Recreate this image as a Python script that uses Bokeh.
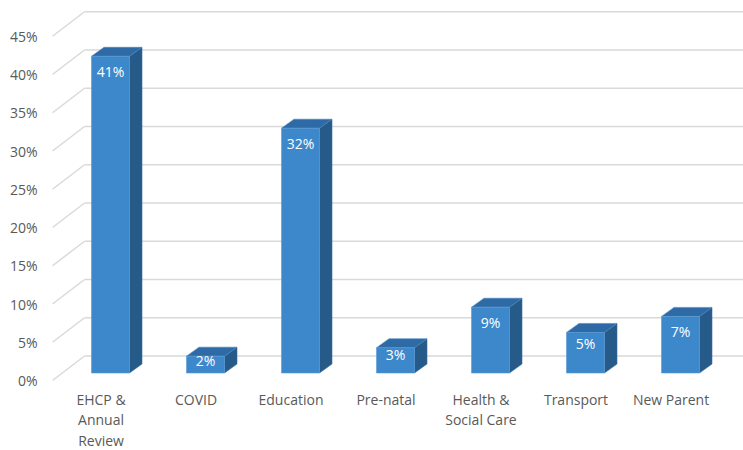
from bokeh.plotting import figure
from bokeh.models import Range1d, FixedTicker, PrintfTickFormatter
from bokeh.core.properties import value
from bokeh.embed import file_html
from bokeh.resources import INLINE

# ---- data ----
categories = ["EHCP &\nAnnual\nReview", "COVID", "Education", "Pre-natal",
              "Health &\nSocial Care", "Transport", "New Parent"]
shares = [41.4, 2.2, 32.0, 3.3, 8.6, 5.3, 7.4]
tick_values = [0, 5, 10, 15, 20, 25, 30, 35, 40, 45]

# ---- geometry (styles) ----
W, H = 743, 450
PX_CAT = 95.0      # px per category
PX_PCT = 7.65      # px per percent
OX, OY = 110.0, 380.0   # pixel of category 0 / 0% (front plane)
FRAME_L = 44

x_lo = (FRAME_L - OX) / PX_CAT
x_hi = (W - OX) / PX_CAT
y_hi = OY / PX_PCT
y_lo = (OY - H) / PX_PCT

FONT = "Open Sans"
TXT = "#595959"
GRID = "#d9d9d9"
FRONT = "#3d87cb"
SIDE = "#265a88"
TOP = "#2e6ba6"

p = figure(width=W, height=H, output_backend="svg", toolbar_location=None,
           x_range=Range1d(x_lo, x_hi), y_range=Range1d(y_lo, y_hi),
           min_border_left=FRAME_L, min_border_right=0, min_border_top=0,
           min_border_bottom=0)
p.outline_line_color = None
p.background_fill_color = "white"
p.border_fill_color = "white"
p.xgrid.visible = False
p.ygrid.visible = False
p.xaxis.visible = False

ya = p.yaxis[0]
ya.ticker = FixedTicker(ticks=tick_values)
ya.formatter = PrintfTickFormatter(format="%d%%")
ya.axis_line_color = None
ya.major_tick_line_color = None
ya.minor_tick_line_color = None
ya.major_tick_in = 0
ya.major_tick_out = 0
ya.major_label_standoff = 7
ya.major_label_text_font = FONT
ya.major_label_text_font_size = "14px"
ya.major_label_text_color = TXT

# ---- floor/wall gridlines ----
diag_x0 = (52 - OX) / PX_CAT
wall_x = (84 - OX) / PX_CAT
wall_end = (760 - OX) / PX_CAT
depth = 24.5 / PX_PCT
p.segment(x0=[diag_x0] * len(tick_values), y0=tick_values,
          x1=[wall_x] * len(tick_values), y1=[t + depth for t in tick_values],
          line_color=GRID, line_width=1.5)
p.segment(x0=[wall_x] * len(tick_values), y0=[t + depth for t in tick_values],
          x1=[wall_end] * len(tick_values), y1=[t + depth for t in tick_values],
          line_color=GRID, line_width=1.5)

# ---- 3D bars ----
bw = 38 / PX_CAT
ddx = 12.5 / PX_CAT
ddy = 9.0 / PX_PCT
floor = (OY - 372.5) / PX_PCT
idx = list(range(len(categories)))
lefts = [i - bw / 2 for i in idx]
rights = [i + bw / 2 for i in idx]
tops = [floor + v for v in shares]

side_xs = [[r, r, r + ddx, r + ddx] for r in rights]
side_ys = [[floor, t, t + ddy, floor + ddy] for t in tops]
top_xs = [[l, r, r + ddx, l + ddx] for l, r in zip(lefts, rights)]
top_ys = [[t, t, t + ddy, t + ddy] for t in tops]

p.patches(side_xs, side_ys, fill_color=SIDE, line_color="#3a6f9e", line_width=0.6)
p.patches(top_xs, top_ys, fill_color=TOP, line_color="#4a86bd", line_width=0.6)
p.quad(left=lefts, right=rights, bottom=[floor] * len(idx), top=tops,
       fill_color=FRONT, line_color="#5b9bd5", line_width=0.6)

# ---- data labels ----
lab_y = []
for v in shares:
    h = v * PX_PCT
    off = min(15.0, 0.28 * h)
    lab_y.append(floor + v - off / PX_PCT)
p.text(x=idx, y=lab_y, text=[f"{round(v)}%" for v in shares],
       text_align="center", text_baseline="middle", text_color="white",
       text_font=value(FONT), text_font_size="14px")

# ---- category labels ----
cat_x = [i - 9.5 / PX_CAT for i in idx]
cat_y = [(OY - 389) / PX_PCT] * len(idx)
p.text(x=cat_x, y=cat_y, text=categories, text_align="center",
       text_baseline="top", text_color=TXT, text_font=value(FONT),
       text_font_size="14px", text_line_height=1.08)

open("out.html", "w").write(file_html(p, INLINE))
